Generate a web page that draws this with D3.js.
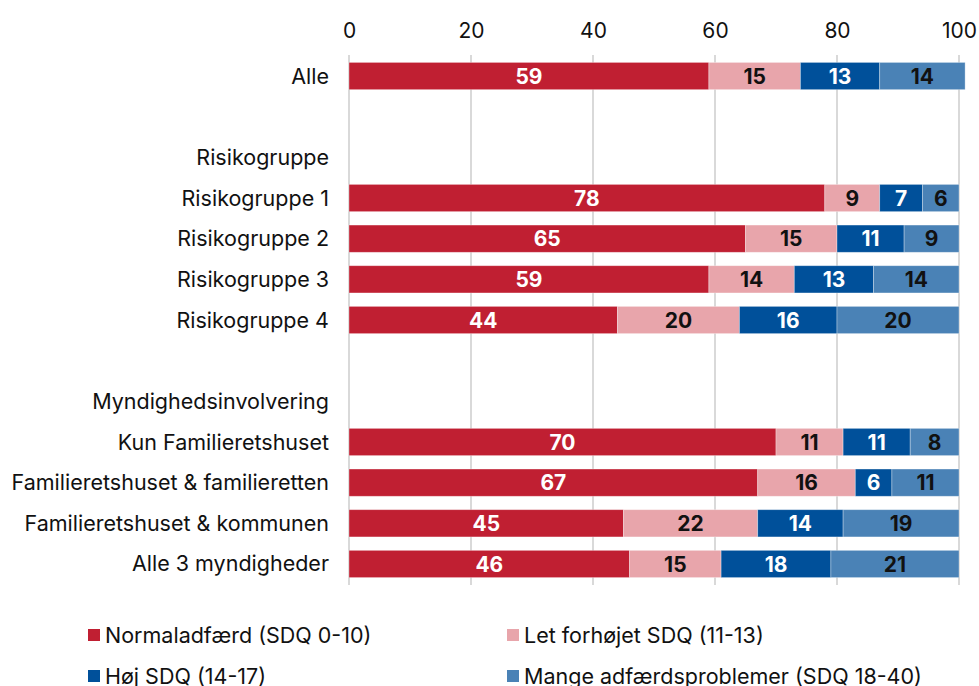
<!DOCTYPE html>
<html>
<head>
<meta charset="utf-8">
<title>SDQ fordeling</title>
<script src="https://cdn.jsdelivr.net/npm/d3@7"></script>
<style>
	body { margin: 0; background: #fff; }
	svg text { font-family: Inter, "Noto Sans", sans-serif; }
</style>
</head>
<body>
<div id="chart"></div>
<script>
// rows, blank strings are spacer rows
var rows = ["Alle", "_b1", "Risikogruppe", "Risikogruppe 1", "Risikogruppe 2", "Risikogruppe 3", "Risikogruppe 4",
	"_b2", "Myndighedsinvolvering", "Kun Familieretshuset", "Familieretshuset & familieretten",
	"Familieretshuset & kommunen", "Alle 3 myndigheder"];

var series = ["Normaladfærd (SDQ 0-10)", "Let forhøjet SDQ (11-13)", "Høj SDQ (14-17)", "Mange adfærdsproblemer (SDQ 18-40)"];

var normal  = [59, null, null, 78, 65, 59, 44, null, null, 70, 67, 45, 46];
var let_    = [15, null, null,  9, 15, 14, 20, null, null, 11, 16, 22, 15];
var hoej    = [13, null, null,  7, 11, 13, 16, null, null, 11,  6, 14, 18];
var mange   = [14, null, null,  6,  9, 14, 20, null, null,  8, 11, 19, 21];

var ticks = [0, 20, 40, 60, 80, 100];

var colors = ["#c01f32", "#e8a5ab", "#00509a", "#4a82b6"];
var textColors = ["#fff", "#111", "#fff", "#111"];

var width = 979, height = 686;

var svg = d3.select("#chart").append("svg")
	.attr("width", width)
	.attr("height", height);

var x = d3.scaleLinear().domain([0, 100]).range([349, 959]);
var y = d3.scaleBand().domain(rows).range([55.7, 584.3]).paddingInner(0.33).paddingOuter(0.165);

// grid lines
svg.append("g").selectAll("line")
	.data(ticks)
	.enter().append("line")
	.attr("x1", function(d) { return x(d); })
	.attr("x2", function(d) { return x(d); })
	.attr("y1", 55)
	.attr("y2", 585)
	.attr("stroke", "#d9d9d9")
	.attr("stroke-width", 2);

// top axis labels
var axis = svg.append("g")
	.attr("transform", "translate(0,46)")
	.call(d3.axisTop(x).tickValues(ticks).tickSize(0).tickPadding(8));
axis.select(".domain").remove();
axis.selectAll("text")
	.style("font-size", "21px")
	.style("font-family", "Inter, sans-serif")
	.attr("fill", "#111");

// row labels
svg.append("g").selectAll("text")
	.data(rows.filter(function(r) { return r.charAt(0) != "_"; }))
	.enter().append("text")
	.attr("x", 329)
	.attr("y", function(d) { return y(d) + y.bandwidth() / 2; })
	.attr("dy", "0.35em")
	.attr("text-anchor", "end")
	.style("font-size", "21.5px")
	.attr("fill", "#111")
	.text(function(d) { return d; });

// stacked data
var data = [];
rows.forEach(function(r, i) {
	if (normal[i] == null) return;
	var vals = [normal[i], let_[i], hoej[i], mange[i]];
	var start = 0;
	vals.forEach(function(v, k) {
		data.push({ row: r, k: k, v: v, x0: start, x1: start + v });
		start += v;
	});
});

svg.append("g").selectAll("rect")
	.data(data)
	.enter().append("rect")
	.attr("x", function(d) { return x(d.x0); })
	.attr("y", function(d) { return y(d.row); })
	.attr("width", function(d) { return x(d.x1) - x(d.x0); })
	.attr("height", y.bandwidth())
	.attr("fill", function(d) { return colors[d.k]; })
	.attr("stroke", "#fff")
	.attr("stroke-opacity", 0.4)
	.attr("stroke-width", 0.8);

svg.append("g").selectAll("text")
	.data(data)
	.enter().append("text")
	.attr("x", function(d) { return (x(d.x0) + x(d.x1)) / 2; })
	.attr("y", function(d) { return y(d.row) + y.bandwidth() / 2; })
	.attr("dy", "0.36em")
	.attr("text-anchor", "middle")
	.style("font-size", "21px")
	.style("font-weight", "bold")
	.attr("fill", function(d) { return textColors[d.k]; })
	.text(function(d) { return d.v; });

// legend
var legendPos = [[88, 635], [507, 635], [88, 676], [507, 676]];
var legend = svg.append("g").selectAll("g")
	.data(series)
	.enter().append("g")
	.attr("transform", function(d, i) { return "translate(" + legendPos[i][0] + "," + legendPos[i][1] + ")"; });
legend.append("rect")
	.attr("x", 0)
	.attr("y", -6)
	.attr("width", 12)
	.attr("height", 12)
	.attr("fill", function(d, i) { return colors[i]; });
legend.append("text")
	.attr("x", 17)
	.attr("dy", "0.35em")
	.style("font-size", "21.5px")
	.attr("fill", "#111")
	.text(function(d) { return d; });
</script>
</body>
</html>
